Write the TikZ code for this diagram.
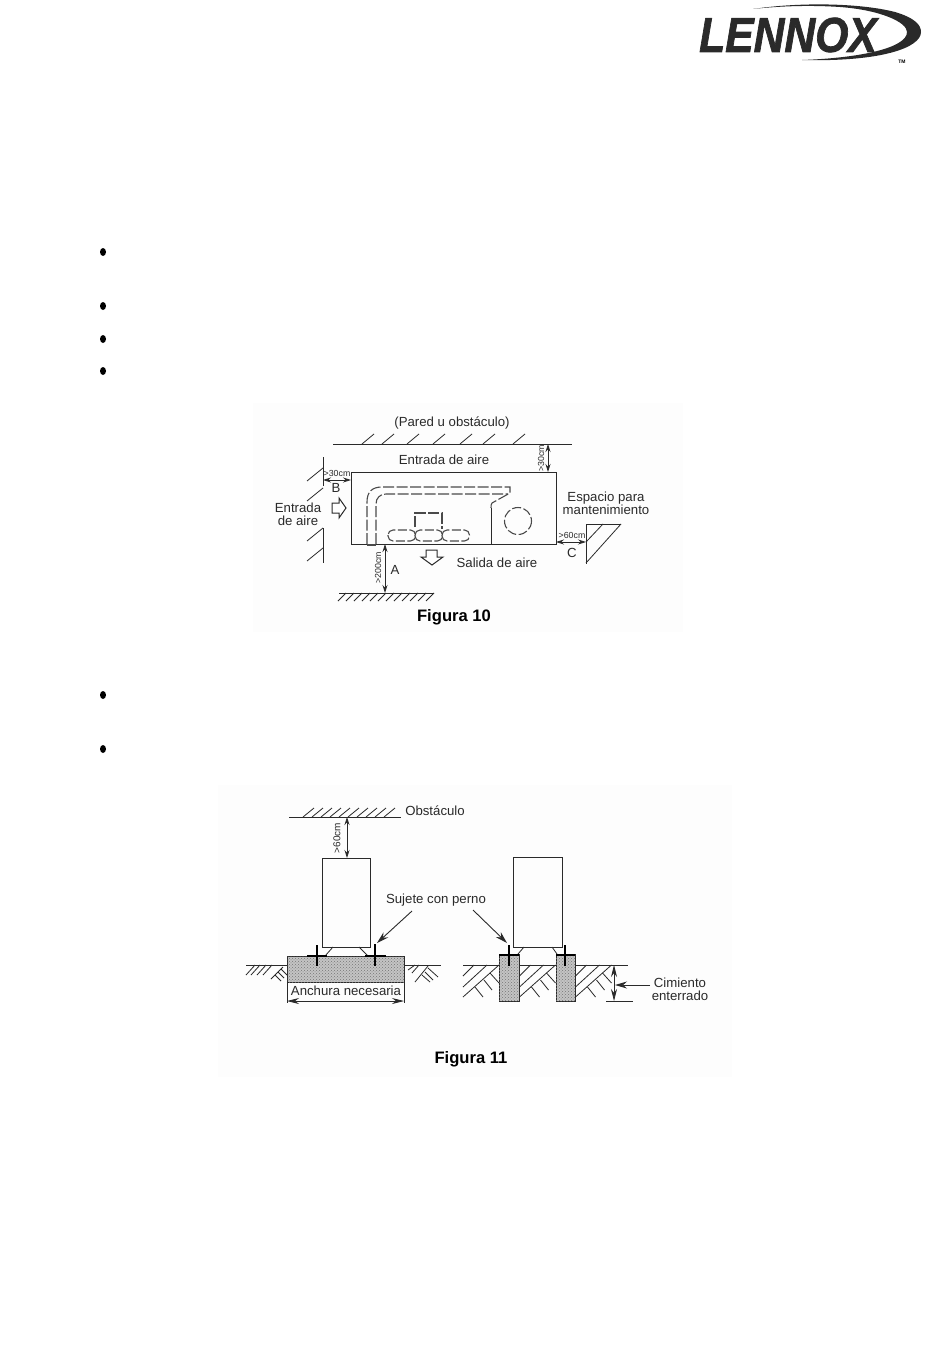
\documentclass[tikz,border=0pt]{standalone}
\usepackage{fontspec}
\setmainfont{Liberation Sans}
\newfontfamily\logofont[FakeBold=1.6]{Liberation Sans}
\usetikzlibrary{arrows.meta,patterns}
\definecolor{inkgray}{HTML}{2A2A2A}
\definecolor{stipple}{HTML}{C4C4C4}
\definecolor{scanpaper}{HTML}{FDFDFD}
\tikzset{
	label13/.style={text=inkgray, inner sep=0pt, align=center, font=\fontsize{13.2}{13.4}\selectfont},
	label9/.style={text=inkgray, inner sep=0pt, font=\fontsize{8.8}{10}\selectfont},
	caption/.style={text=black, inner sep=0pt, font=\fontsize{16.6}{18}\selectfont\bfseries},
	hatchline/.style={draw=inkgray, line width=0.8pt},
	wall/.style={draw=inkgray, line width=0.8pt},
	hidden/.style={draw=inkgray!85, line width=1.1pt, dash pattern=on 11pt off 2.5pt},
	dimline/.style={draw=inkgray, line width=0.8pt, {Stealth[length=8pt,width=5pt]}-{Stealth[length=8pt,width=5pt]}},
	bigdim/.style={draw=inkgray, line width=0.8pt, {Stealth[length=12pt,width=6pt]}-{Stealth[length=12pt,width=6pt]}},
	leader/.style={draw=inkgray, line width=0.9pt, -{Stealth[length=12pt,width=7pt]}},
	bolt/.style={draw=black, line width=1.9pt},
	footing/.style={draw=inkgray, line width=0.8pt, fill=stipple, postaction={pattern=crosshatch dots, pattern color=inkgray!65}},
	hollow/.style={draw=inkgray, line width=1pt, fill=white, line join=miter}
}
\begin{document}
\begin{tikzpicture}[x=1pt,y=-1pt]
	\useasboundingbox (0,0) rectangle (950,1359);
	\fill[scanpaper] (253,403) rectangle (683,632);
	\fill[scanpaper] (218,785) rectangle (732,1077);
	% logo
	\node[inner sep=0pt, text=inkgray, font=\fontsize{49}{49}\logofont\bfseries\itshape, xscale=0.87, transform shape] (logo) at (788,35) {LENNOX};
	\fill[inkgray] (753,9) .. controls (800,2) and (860,3) .. (895,12)
		.. controls (915,18) and (921,25) .. (921,32)
		.. controls (921,48) and (880,62) .. (802,60)
		.. controls (860,58) and (907,48) .. (907,32)
		.. controls (907,22) and (880,10) .. (840,7)
		.. controls (810,5) and (780,6) .. (753,9) -- cycle;
	\node[inner sep=0pt, font=\fontsize{5}{5}\selectfont\bfseries] (tm) at (902,62) {TM};
	% bullets
	\foreach \by in {252,306,339,371,695,749}
		\fill[black] (103,\by) ellipse (3 and 4);

	% Figura 10
	\draw[wall] (333,444) -- (572,444);
	\foreach \hx in {362,382,407,433,460,483,513}
		\draw[hatchline] (\hx,444) -- ++(12,-10);
	\draw[wall] (323,457) -- (323,486);
	\draw[wall] (323,528) -- (323,563);
	\foreach \hy in {468,488,528,548}
		\draw[hatchline] (323,\hy) -- ++(-16,13);
	\draw[wall] (339,593) -- (434,593);
	\foreach \hx in {346,354,...,434}
		\draw[hatchline] (\hx,593) -- ++(-8,8);
	\draw[wall] (621,524) -- (586,524) -- (586,564);
	\draw[hatchline] (621,524) -- (586,563);
	\draw[hatchline] (603,524) -- (586,542);
	\draw[wall] (351,472) rectangle (556,544);
	\draw[hidden] (367,544) -- (367,502) .. controls (367,492) and (372,487) .. (382,487) -- (510,487) -- (510,493) -- (492,503) .. controls (491,504) and (491,506) .. (491,508);
	\draw[wall] (491,508) -- (491,544);
	\draw[hidden] (376,544) -- (376,504) .. controls (376,498) and (380,494) .. (386,494) -- (508,494);
	\draw[hidden] (367,545) -- (376,545);
	\draw[hidden, dash pattern=on 9pt off 2.5pt] (518,521) circle (13.5);
	\draw[hidden] (415,527) -- (415,513) -- (442,513) -- (442,529);
	\foreach \cx in {388,415,442}
		\draw[hidden, dash pattern=on 9pt off 2.5pt, rounded corners=5pt] (\cx,530) rectangle ++(27.5,11);
	\draw[hollow] (332,503) -- (339,503) -- (339,498) -- (346,508) -- (339,518) -- (339,513) -- (332,513) -- cycle;
	\draw[hollow] (426,550) -- (437,550) -- (437,557) -- (443,557) -- (432,565) -- (421,557) -- (426,557) -- cycle;

	\coordinate (wallT) at (548,444);
	\coordinate (unitT) at (548,472);
	\coordinate (wallL) at (323,480);
	\coordinate (unitL) at (351,480);
	\coordinate (unitR) at (556,542);
	\coordinate (wallR) at (586,542);
	\coordinate (unitB) at (385,544);
	\coordinate (groundB) at (385,593);
	\draw[dimline] (wallT) -- (unitT);
	\draw[dimline] (wallL) -- (unitL);
	\draw[dimline] (unitR) -- (wallR);
	\draw[dimline] (unitB) -- (groundB);

	\node[label13] (pared) at (452,423) {(Pared u obstáculo)};
	\node[label13] (entradaT) at (444,460) {Entrada de aire};
	\node[label13] (entradaL) at (298,514) {Entrada\\de aire};
	\node[label13] (espacio) at (606,503) {Espacio para\\mantenimiento};
	\node[label13] (salida) at (497,563) {Salida de aire};
	\node[label13] (letterA) at (395,570) {A};
	\node[label13] (letterB) at (336,488) {B};
	\node[label13] (letterC) at (572,553) {C};
	\node[label9] (dimL) at (337,473) {>30cm};
	\node[label9, rotate=90] (dimT) at (541,458) {>30cm};
	\node[label9] (dimR) at (572,535) {>60cm};
	\node[label9, rotate=90] (dimB) at (378,568) {>200cm};
	\node[caption] (fig10) at (454,617) {Figura 10};

	% Figura 11, izquierda
	\draw[wall] (289,817) -- (401,817);
	\foreach \hx in {303,312,...,392}
		\draw[hatchline] (\hx,817) -- ++(11,-9);
	\draw[wall] (322,858) rectangle (370,947);
	\coordinate (obsT) at (347,817);
	\coordinate (unitA) at (347,858);
	\draw[dimline] (obsT) -- (unitA);
	\draw[wall] (333,947) -- (325,956);
	\draw[wall] (359,947) -- (368,956);
	\draw[footing] (287,956) rectangle (404,982);
	\draw[wall] (287,982) -- (287,1003);
	\draw[wall] (404,982) -- (404,1003);
	\coordinate (anchoL) at (287,1001);
	\coordinate (anchoR) at (404,1001);
	\draw[bigdim] (anchoL) -- (anchoR);
	\draw[bolt] (307,956) -- (327,956);
	\draw[bolt] (317,945) -- (317,966);
	\draw[bolt] (365,956) -- (386,956);
	\draw[bolt] (375,944) -- (375,966);
	\draw[wall] (246,965) -- (287,965);
	\draw[wall] (404,965) -- (441,965);
	\foreach \hx in {255,260,266,272}
		\draw[hatchline] (\hx,965) -- ++(-9,10);
	\draw[hatchline] (271,979) -- (283,967);
	\draw[hatchline] (281,969) -- (287,975);
	\draw[hatchline] (278,972) -- (284,978);
	\draw[hatchline] (275,975) -- (281,981);
	\draw[hatchline] (408,970) -- (415,965);
	\draw[hatchline] (412,973) -- (419,965);
	\draw[hatchline] (415,982) -- (428,966);
	\draw[hatchline] (428,968) -- (438,977);
	\draw[hatchline] (425,972) -- (433,980);
	\draw[hatchline] (422,975) -- (430,982);

	% Figura 11, derecha
	\draw[wall] (513,857) rectangle (562,947);
	\draw[wall] (524,947) -- (518,954);
	\draw[wall] (552,947) -- (557,954);
	\draw[wall] (463,965) -- (499,965);
	\draw[wall] (519,965) -- (556,965);
	\draw[wall] (575,965) -- (628,965);
	\foreach \gx in {463,519.5,575.5}{
		\draw[hatchline] (\gx,976) -- ++(11,-11);
		\draw[hatchline] (\gx,987) -- ++(24,-22);
		\draw[hatchline] (\gx,997) -- ++(36,-32);
		\draw[hatchline] (\gx+12,987) -- ++(8,10);
		\draw[hatchline] (\gx+21,980) -- ++(8,10);
		\draw[hatchline] (\gx+27,973) -- ++(9,10);
	}
	\draw[footing] (499,954) rectangle (519,1001);
	\draw[footing] (556,954) rectangle (575,1001);
	\draw[bolt, line width=2.4pt] (499,955) -- (519,955);
	\draw[bolt, line width=2.4pt] (556,955) -- (575,955);
	\draw[bolt] (509,945) -- (509,966);
	\draw[bolt] (565,945) -- (565,966);

	\coordinate (soilT) at (614,965);
	\coordinate (soilB) at (614,1001);
	\coordinate (cimTail) at (650,985);
	\coordinate (cimTip) at (615,985);
	\draw[wall] (606,1001) -- (633,1001);
	\draw[bigdim] (soilT) -- (soilB);
	\draw[leader] (cimTail) -- (cimTip);

	\node[label13] (obstaculo) at (435,811) {Obstáculo};
	\node[label13, font=\fontsize{10}{10}\selectfont, rotate=90] (dim60) at (337,838) {>60cm};
	\node[label13] (sujete) at (436,900) {Sujete con perno};
	\node[label13] (anchura) at (346,991) {Anchura necesaria};
	\node[label13] (cimiento) at (680,989.5) {Cimiento\\enterrado};
	\node[caption] (fig11) at (471,1059) {Figura 11};
	\coordinate (perA) at (412,911);
	\coordinate (boltA) at (377,943);
	\coordinate (perB) at (473,910);
	\coordinate (boltB) at (507,943);
	\draw[leader] (perA) -- (boltA);
	\draw[leader] (perB) -- (boltB);
\end{tikzpicture}
\end{document}
